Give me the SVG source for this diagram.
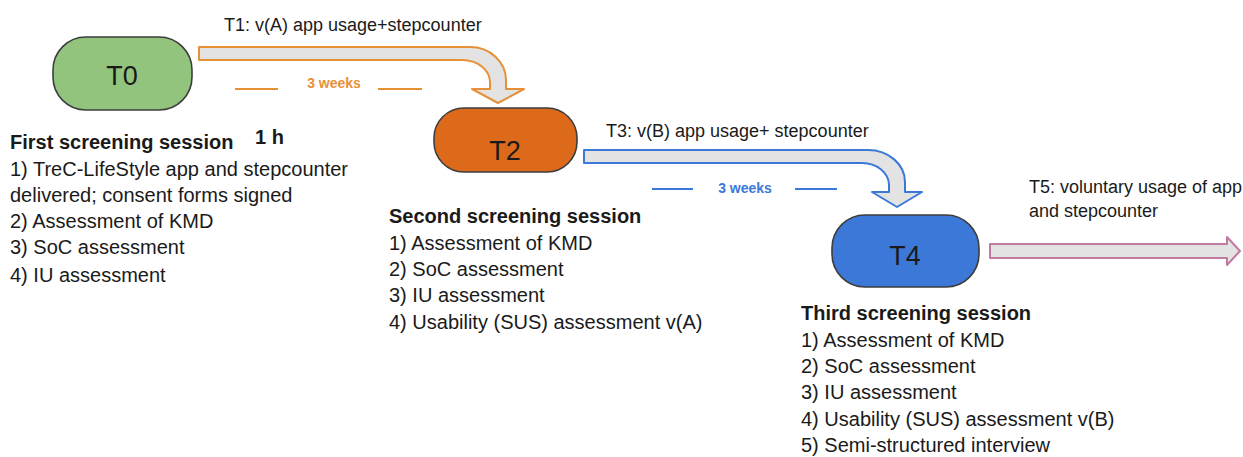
<svg xmlns="http://www.w3.org/2000/svg" width="1243" height="457" viewBox="0 0 1243 457">
<style>
text{font-family:"Liberation Sans",Arial,sans-serif;fill:#1a1a1a}
.node{stroke:#3d3d3d;stroke-width:1.6}
.nlabel{font-size:27px;text-anchor:middle}
.lbl{font-size:18px}
.list{font-size:20px}
.head{font-size:20px;font-weight:bold}
.wk{font-size:14px;font-weight:bold;text-anchor:middle}
.arrow{fill:#e3e3e3;stroke-width:2;stroke-linejoin:round}
</style>
<rect width="1243" height="457" fill="#ffffff"/>
<g id="connectors">
  <g id="t1">
    <path class="arrow" stroke="#e69138" d="M199,47 L470,47 A36,33 0 0 1 506,80 L506,89 L524,89 L498,103 L472,89 L490,89 L490,82 A28,22 0 0 0 462,60 L199,60 Z"/>
    <text class="lbl" x="224" y="31">T1: v(A) app usage+stepcounter</text>
    <line x1="235" y1="89" x2="278" y2="89" stroke="#e69138" stroke-width="2"/>
    <line x1="378" y1="89" x2="422" y2="89" stroke="#e69138" stroke-width="2"/>
    <text class="wk" x="334" y="88" style="fill:#e69138">3 weeks</text>
  </g>
  <g id="t3">
    <path class="arrow" stroke="#3c78d8" d="M584,150 L868,150 A37,32 0 0 1 905,182 L905,192 L922,192 L897,207 L872,192 L889,192 L889,185 A27,22 0 0 0 862,163 L584,163 Z"/>
    <text class="lbl" x="606" y="137">T3: v(B) app usage+ stepcounter</text>
    <line x1="652" y1="189" x2="693" y2="189" stroke="#3c78d8" stroke-width="2"/>
    <line x1="795" y1="189" x2="837" y2="189" stroke="#3c78d8" stroke-width="2"/>
    <text class="wk" x="745" y="193" style="fill:#3c78d8">3 weeks</text>
  </g>
  <g id="t5">
    <path class="arrow" stroke="#c27ba0" d="M990,244 L1227,244 L1227,237 L1240,251 L1227,265 L1227,258 L990,258 Z"/>
    <text class="lbl" x="1029" y="193">T5: voluntary usage of app</text>
    <text class="lbl" x="1029" y="217">and stepcounter</text>
  </g>
</g>
<g id="T0">
  <rect class="node" x="53" y="37" width="139" height="73" rx="33" fill="#93c47d"/>
  <text class="nlabel" x="122" y="85">T0</text>
</g>
<g id="T2">
  <rect class="node" x="434" y="108" width="143" height="64" rx="30" fill="#dd6a1b"/>
  <text class="nlabel" x="505" y="160">T2</text>
</g>
<g id="T4">
  <rect class="node" x="832" y="215" width="147" height="72" rx="33" fill="#3c78d8"/>
  <text class="nlabel" x="905" y="265">T4</text>
</g>
<g id="session1">
  <text class="head" x="10" y="149">First screening session</text>
  <text class="head" x="255" y="144">1 h</text>
  <text class="list" x="10" y="176">1) TreC-LifeStyle app and stepcounter</text>
  <text class="list" x="10" y="202">delivered; consent forms signed</text>
  <text class="list" x="10" y="228">2) Assessment of KMD</text>
  <text class="list" x="10" y="254">3) SoC assessment</text>
  <text class="list" x="10" y="282">4) IU assessment</text>
</g>
<g id="session2">
  <text class="head" x="389" y="223">Second screening session</text>
  <text class="list" x="389" y="250">1) Assessment of KMD</text>
  <text class="list" x="389" y="276">2) SoC assessment</text>
  <text class="list" x="389" y="302">3) IU assessment</text>
  <text class="list" x="389" y="329">4) Usability (SUS) assessment v(A)</text>
</g>
<g id="session3">
  <text class="head" x="801" y="320">Third screening session</text>
  <text class="list" x="801" y="347">1) Assessment of KMD</text>
  <text class="list" x="801" y="373">2) SoC assessment</text>
  <text class="list" x="801" y="399">3) IU assessment</text>
  <text class="list" x="801" y="426">4) Usability (SUS) assessment v(B)</text>
  <text class="list" x="801" y="452">5) Semi-structured interview</text>
</g>
</svg>
